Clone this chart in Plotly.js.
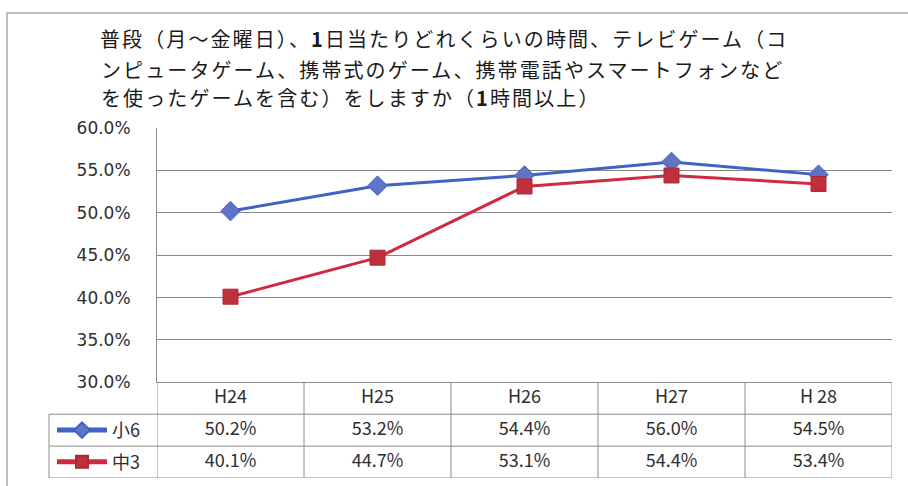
<!DOCTYPE html>
<html>
<head>
<meta charset="utf-8">
<script src="https://cdn.plot.ly/plotly-3.0.1.min.js"></script>
<style>
html,body{margin:0;padding:0;background:#fff;}
#chart{width:908px;height:486px;}
#chart .gtitle, #chart .annotation-text{letter-spacing:2.1px;}
</style>
</head>
<body>
<div id="chart"></div>
<script>
// ---- data ----
const categories = ['H24', 'H25', 'H26', 'H27', 'H 28'];
const seriesNames = ['小6', '中3'];
const sho6 = [50.2, 53.2, 54.4, 56.0, 54.5];
const chu3 = [40.1, 44.7, 53.1, 54.4, 53.4];
const yTickVals = [30, 35, 40, 45, 50, 55, 60];
const titleLines = [
  '普段（月～金曜日）、<b>1</b>日当たりどれくらいの時間、テレビゲーム（コ',
  'ンピュータゲーム、携帯式のゲーム、携帯電話やスマートフォンなど',
  'を使ったゲームを含む）をしますか（<b>1</b>時間以上）'
];

// ---- geometry (pixels) ----
const W = 908, H = 486;
const mL = 7, mR = 16, mT = 128, mB = 5;
const plotW = W - mL - mR, plotH = H - mT - mB;
const axisX = 157, axisBottom = 384.5, legendLeft = 49;
const titleX = 100, titleY0 = 40, titleStep = 28.7;
const px2x = p => (p - mL) / plotW;
const px2y = p => (H - mB - p) / plotH;

const jp = 'Noto Sans CJK JP, sans-serif';
const gridCol = '#888888';
const tblCol = '#8c8c8c';
const blue = '#4062c4', blueMk = '#5f74c6';
const red = '#d02a40', redMk = '#c0303c';
const titleFont = {family: jp, size: 20, color: '#1a1a1a'};

// table text trace built from data arrays
const fmt = v => v.toFixed(1) + '%';
const tx = [], ty = [], tt = [];
categories.forEach(c => { tx.push(c); ty.push(0.5); tt.push(c); });
sho6.forEach((v, i) => { tx.push(categories[i]); ty.push(1.5); tt.push(fmt(v)); });
chu3.forEach((v, i) => { tx.push(categories[i]); ty.push(2.5); tt.push(fmt(v)); });

const traces = [
  {
    x: categories, y: sho6, name: seriesNames[0], type: 'scatter', mode: 'lines+markers',
    line: {color: blue, width: 3},
    marker: {symbol: 'diamond', size: 15, color: blueMk, line: {color: blue, width: 1}},
    legend: 'legend', cliponaxis: false
  },
  {
    x: categories, y: chu3, name: seriesNames[1], type: 'scatter', mode: 'lines+markers',
    line: {color: red, width: 3},
    marker: {symbol: 'square', size: 15, color: redMk, line: {color: '#a82a34', width: 1}},
    legend: 'legend2', cliponaxis: false
  },
  {
    x: tx, y: ty, text: tt, type: 'scatter', mode: 'text', yaxis: 'y2',
    textfont: {family: jp, size: 18, color: '#2e2e2e'},
    showlegend: false, hoverinfo: 'skip', cliponaxis: false
  }
];

const shapes = [];
// outer frame (left & top visible)
shapes.push({type: 'rect', xref: 'paper', yref: 'paper',
  x0: px2x(7), x1: px2x(930), y0: px2y(510), y1: px2y(12),
  line: {color: '#a8a8a8', width: 1.5}, fillcolor: 'rgba(0,0,0,0)', layer: 'above'});
// table horizontal lines
[1, 2, 3].forEach(r => shapes.push({type: 'line', xref: 'paper', yref: 'y2',
  x0: px2x(legendLeft), x1: 1, y0: r, y1: r, line: {color: tblCol, width: 1}}));
// table vertical lines at category boundaries
for (let i = 0; i <= categories.length; i++) {
  shapes.push({type: 'line', xref: 'x', yref: 'y2', x0: i - 0.5, x1: i - 0.5, y0: 0, y1: 3,
    line: {color: tblCol, width: 1}});
}
// legend column left edge
shapes.push({type: 'line', xref: 'paper', yref: 'y2', x0: px2x(legendLeft), x1: px2x(legendLeft),
  y0: 1, y1: 3, line: {color: tblCol, width: 1}});

// continuation lines of the title
const annotations = titleLines.slice(1).map((t, i) => ({
  text: t, xref: 'paper', yref: 'paper', x: px2x(titleX), xanchor: 'left', align: 'left',
  y: px2y(titleY0 + titleStep * (i + 1)), yanchor: 'middle', showarrow: false,
  borderpad: 0, font: titleFont
}));

const legendCommon = {
  xanchor: 'left', yanchor: 'middle', bgcolor: 'rgba(0,0,0,0)', borderwidth: 0,
  font: {family: jp, size: 18, color: '#2e2e2e'}, itemwidth: 50, tracegroupgap: 0,
  itemsizing: 'constant'
};

const layout = {
  width: W, height: H,
  margin: {l: mL, r: mR, t: mT, b: mB, pad: 0},
  paper_bgcolor: '#ffffff', plot_bgcolor: '#ffffff',
  title: {
    text: titleLines[0], xref: 'container', yref: 'container', x: titleX / W, xanchor: 'left',
    y: 1 - titleY0 / H, yanchor: 'middle', pad: {t: 0, b: 0, l: 0, r: 0},
    font: titleFont
  },
  annotations: annotations,
  showlegend: true,
  legend: Object.assign({x: px2x(52), y: px2y(433)}, legendCommon),
  legend2: Object.assign({x: px2x(52), y: px2y(465)}, legendCommon),
  xaxis: {
    type: 'category', domain: [px2x(axisX), 1], range: [-0.5, categories.length - 0.5],
    showticklabels: false, showgrid: false, zeroline: false,
    showline: true, linecolor: tblCol, linewidth: 1, ticks: '', anchor: 'y', fixedrange: true
  },
  yaxis: {
    domain: [px2y(axisBottom), 1], range: [30, 60], tickvals: yTickVals,
    ticktext: yTickVals.map(v => v.toFixed(1) + '%'),
    showgrid: true, gridcolor: gridCol, gridwidth: 1, zeroline: false,
    showline: true, linecolor: tblCol, linewidth: 1, ticks: '', ticklabelstandoff: 22,
    tickfont: {family: 'DejaVu Sans, sans-serif', size: 17, color: '#2e2e2e'},
    anchor: 'x', fixedrange: true
  },
  yaxis2: {
    domain: [0, px2y(axisBottom)], range: [3, 0], visible: false, anchor: 'x', fixedrange: true
  },
  shapes: shapes
};

Plotly.newPlot('chart', traces, layout, {displayModeBar: false, staticPlot: true});
</script>
</body>
</html>
